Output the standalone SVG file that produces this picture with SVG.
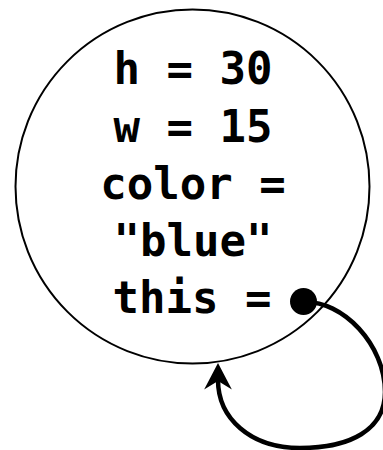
<svg xmlns="http://www.w3.org/2000/svg" width="383" height="450" viewBox="0 0 383 450">
<defs>
<style>
.t{font-family:"DejaVu Sans Mono","Liberation Mono",monospace;font-weight:bold;font-size:44px;fill:#000;text-anchor:middle}
</style>
<marker id="ah" markerUnits="userSpaceOnUse" markerWidth="32" markerHeight="32" viewBox="-26 -15 28 30" refX="-16" refY="0" orient="auto">
<path d="M0,0 L-25,-13 L-17,0 L-25,13 Z" fill="#000"/>
</marker>
</defs>
<rect width="383" height="450" fill="#fff"/>
<g id="object">
<circle cx="192.5" cy="186.5" r="177" fill="none" stroke="#000" stroke-width="2"/>
<text class="t" x="193" y="84">h = 30</text>
<text class="t" x="193" y="142">w = 15</text>
<text class="t" x="193" y="199">color =</text>
<text class="t" x="193" y="256">"blue"</text>
<text class="t" x="192" y="313">this =</text>
</g>
<g id="connectors">
<circle cx="303.5" cy="301.5" r="13.5" fill="#000"/>
<path d="M303 302 C343 300 385 345 385 392 C385 430 350 448 300 448 C250 448 218 418 218 380" fill="none" stroke="#000" stroke-width="4.5" marker-end="url(#ah)"/>
</g>
</svg>
